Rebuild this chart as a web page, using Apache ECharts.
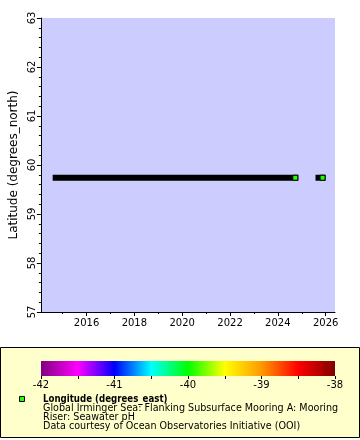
<!DOCTYPE html>
<html><head><meta charset="utf-8">
<script src="https://cdn.jsdelivr.net/npm/echarts@6/dist/echarts.min.js"></script>
<style>html,body{margin:0;padding:0;background:#fff}#c{width:360px;height:440px}</style>
</head><body><div id="c"></div>
<script>
// Data (decimal years, degrees)
const segStartTimes = [2014.71, 2025.70];
const segEndTimes = [2024.73, 2025.87];
const latitudes = [59.74, 59.74];
const longitudes = [-39.93, -39.93];
const xMajorTicks = [2016, 2018, 2020, 2022, 2024, 2026];
const xMinorTicks = [2015, 2017, 2019, 2021, 2023, 2025];
const colorbarTicks = [-42, -41.5, -41, -40.5, -40, -39.5, -39, -38.5, -38];
const colorbarLabels = [-42, -41, -40, -39, -38];
const colorStops = ['#800080','#ff00ff','#0000ff','#00ffff','#00ff00','#ffff00','#ff9900','#ff0000','#800000'];
const legendTitle = 'Longitude (degrees_east)';
const legendLines = ['Global Irminger Sea: Flanking Subsurface Mooring A: Mooring', 'Riser: Seawater pH', 'Data courtesy of Ocean Observatories Initiative (OOI)'];

const XMIN = 2014.092, XMAX = 2026.39;
const CMIN = -42, CMAX = -38;
function hex(c){return [parseInt(c.slice(1,3),16),parseInt(c.slice(3,5),16),parseInt(c.slice(5,7),16)];}
function lonColor(v){
  const t = Math.max(0, Math.min(1, (v - CMIN) / (CMAX - CMIN))) * (colorStops.length - 1);
  const i = Math.min(colorStops.length - 2, Math.floor(t)), f = t - i;
  const a = hex(colorStops[i]), b = hex(colorStops[i+1]);
  return 'rgb(' + a.map((x,k)=>Math.round(x + (b[k]-x)*f)).join(',') + ')';
}
const FONT = 'DejaVu Sans';
const series = [];
segStartTimes.forEach((s, i) => {
  series.push({
    type: 'line', xAxisIndex: 0, yAxisIndex: 0, silent: true,
    data: [[s, latitudes[i]], [segEndTimes[i], latitudes[i]]],
    symbol: 'none', lineStyle: { color: '#000', width: 6, cap: 'square' }, z: 3
  });
  series.push({
    type: 'scatter', xAxisIndex: 0, yAxisIndex: 0, silent: true,
    data: [[segEndTimes[i], latitudes[i]]], symbol: 'rect', symbolSize: 5,
    itemStyle: { color: lonColor(longitudes[i]), borderColor: '#000', borderWidth: 1, opacity: 1 }, z: 4
  });
});
// colorbar dummy series so grid 2 axes render
series.push({ type: 'line', xAxisIndex: 2, yAxisIndex: 1, data: [], silent: true });

const gradStops = colorStops.map((c, i) => ({ offset: i / (colorStops.length - 1), color: c }));
const chart = echarts.init(document.getElementById('c'), null, { renderer: 'canvas' });
chart.setOption({
  animation: false,
  backgroundColor: '#fff',
  textStyle: { fontFamily: FONT },
  grid: [
    { left: 37, top: 18, width: 298, height: 294, show: true, backgroundColor: '#ccccff', borderWidth: 0 },
    { left: 41, top: 361, width: 294, height: 15, show: true, borderWidth: 0,
      backgroundColor: { type: 'linear', x: 0, y: 0, x2: 1, y2: 0, colorStops: gradStops } }
  ],
  xAxis: [
    { type: 'value', gridIndex: 0, min: XMIN, max: XMAX, position: 'bottom',
      axisLine: { show: true, onZero: false, lineStyle: { color: '#000', width: 1 } },
      axisTick: { show: true, customValues: xMajorTicks, length: 4, lineStyle: { color: '#000' } },
      axisLabel: { customValues: xMajorTicks, color: '#000', fontSize: 10, fontFamily: FONT, margin: 6,
        formatter: v => String(Math.round(v)) },
      splitLine: { show: false } },
    { type: 'value', gridIndex: 0, min: XMIN, max: XMAX, position: 'bottom',
      axisLine: { show: false },
      axisTick: { show: true, customValues: xMinorTicks, length: 2, lineStyle: { color: '#000' } },
      axisLabel: { show: false }, splitLine: { show: false } },
    { type: 'value', gridIndex: 1, min: CMIN, max: CMAX, position: 'bottom',
      axisLine: { show: false },
      axisTick: { show: true, customValues: colorbarTicks, length: 3, lineStyle: { color: '#000' } },
      axisLabel: { customValues: colorbarLabels, color: '#000', fontSize: 10, fontFamily: FONT, margin: 4 },
      splitLine: { show: false } }
  ],
  yAxis: [
    { type: 'value', gridIndex: 0, min: 57, max: 63, interval: 1,
      name: 'Latitude (degrees_north)', nameLocation: 'middle', nameGap: 18,
      nameTextStyle: { color: '#000', fontSize: 12, fontFamily: FONT },
      axisLine: { show: true, lineStyle: { color: '#000', width: 1 } },
      axisTick: { show: true, length: 4, lineStyle: { color: '#000' } },
      minorTick: { show: true, splitNumber: 5, length: 2, lineStyle: { color: '#000' } },
      axisLabel: { rotate: 90, color: '#000', fontSize: 10, fontFamily: FONT, margin: 3 },
      splitLine: { show: false } },
    { type: 'value', gridIndex: 1, min: 0, max: 1, show: false }
  ],
  series: series,
  graphic: [
    { type: 'rect', shape: { x: 0.5, y: 347.5, width: 359, height: 90 },
      style: { fill: '#ffffcc', stroke: '#000', lineWidth: 1 }, z: -10 },
    { type: 'rect', shape: { x: 19.5, y: 396.5, width: 5, height: 5 },
      style: { fill: lonColor(longitudes[0]), stroke: '#000', lineWidth: 1 }, z: 10 },
    { type: 'text', x: 43, y: 399, z: 10,
      style: { text: legendTitle, fill: '#000', font: 'bold 9.6px "DejaVu Sans Condensed", "DejaVu Sans"', verticalAlign: 'middle' } },
    { type: 'text', x: 43, y: 408.5, z: 10,
      style: { text: legendLines[0], fill: '#000', font: '9.6px "DejaVu Sans"', verticalAlign: 'middle' } },
    { type: 'text', x: 43, y: 417.3, z: 10,
      style: { text: legendLines[1], fill: '#000', font: '9.6px "DejaVu Sans"', verticalAlign: 'middle' } },
    { type: 'text', x: 43, y: 426.1, z: 10,
      style: { text: legendLines[2], fill: '#000', font: '9.6px "DejaVu Sans"', verticalAlign: 'middle' } }
  ]
});
</script></body></html>
